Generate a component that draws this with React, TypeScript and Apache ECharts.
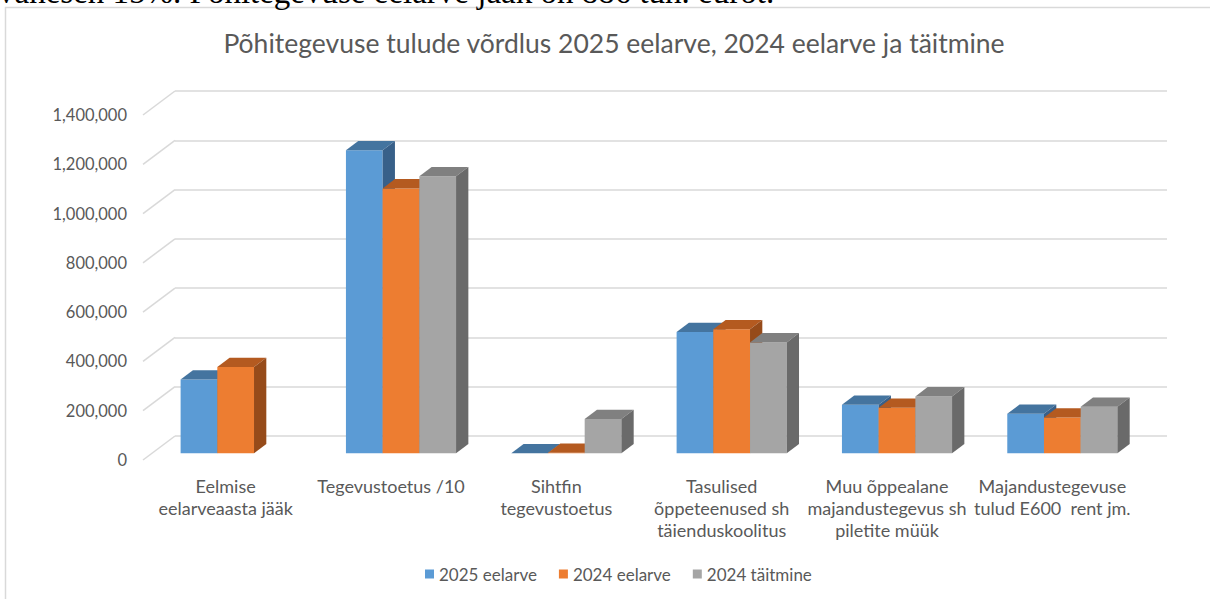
import React, { useEffect, useRef } from "react";
import * as echarts from "echarts";

// ---- data ----
const categories = [
  "Eelmise\neelarveaasta jääk",
  "Tegevustoetus /10",
  "Sihtfin\ntegevustoetus",
  "Tasulised\nõppeteenused sh\ntäienduskoolitus",
  "Muu õppealane\nmajandustegevus sh\npiletite müük",
  "Majandustegevuse\ntulud E600  rent jm.",
];
const seriesNames = ["2025 eelarve", "2024 eelarve", "2024 täitmine"];
const values2025eelarve = [299000, 1230000, 0, 492000, 197000, 160000];
const values2024eelarve = [350000, 1075000, 2500, 503000, 185000, 145000];
const values2024taitmine: (number | null)[] = [null, 1124000, 139000, 450000, 231000, 189000];
const yTicks = [0, 200000, 400000, 600000, 800000, 1000000, 1200000, 1400000];
const titleText = "Põhitegevuse tulude võrdlus 2025 eelarve, 2024 eelarve ja täitmine";
const docText = "vahesen 15%. Põhitegevuse eelarve jääk on 886 tuh. eurot.";

// ---- styles / layout ----
const FONT = "Lato, 'Open Sans', sans-serif";
const TEXT_COLOR = "#595959";
const GRID_COLOR = "#d9d9d9";
const faceColors = [
  { front: "#5b9bd5", top: "#44749f", side: "#386089" },
  { front: "#ed7d31", top: "#b45a20", side: "#964b1a" },
  { front: "#a5a5a5", top: "#808080", side: "#6a6a6a" },
];
const BACK = { left: 175, top: 91, width: 992, height: 345 };
const FRONT = { left: 143, top: 115, width: 992, height: 345 };
const FLOOR_DX = FRONT.left - BACK.left; // -32
const FLOOR_DY = FRONT.top - BACK.top; // 24
const BAR_RATIO = 0.222;
const BAR_SHIFT_X = -22;
const BAR_SHIFT_Y = 17.3;
const DEPTH_DX = 12.3;
const DEPTH_DY = -9.3;

const allSeries = [values2025eelarve, values2024eelarve, values2024taitmine];

function makeBarRender(s: number) {
  const c = faceColors[s];
  return (params: any, api: any) => {
    const v = api.value(1);
    if (v == null || isNaN(v)) return null;
    const cat = api.value(0);
    const top = api.coord([cat, v]);
    const base = api.coord([cat, 0]);
    const band = api.size([1, 0])[0];
    const w = band * BAR_RATIO;
    const cx = top[0] + (s - 1) * w + BAR_SHIFT_X;
    const x0 = cx - w / 2;
    const x1 = cx + w / 2;
    const yT = top[1] + BAR_SHIFT_Y;
    const yB = base[1] + BAR_SHIFT_Y;
    return {
      type: "group",
      children: [
        {
          type: "rect",
          shape: { x: x0, y: yT, width: w, height: Math.max(0, yB - yT) },
          style: { fill: c.front },
        },
        {
          type: "polygon",
          shape: {
            points: [
              [x0, yT],
              [x1, yT],
              [x1 + DEPTH_DX, yT + DEPTH_DY],
              [x0 + DEPTH_DX, yT + DEPTH_DY],
            ],
          },
          style: { fill: c.top },
        },
        {
          type: "polygon",
          shape: {
            points: [
              [x1, yT],
              [x1 + DEPTH_DX, yT + DEPTH_DY],
              [x1 + DEPTH_DX, yB + DEPTH_DY],
              [x1, yB],
            ],
          },
          style: { fill: c.side },
        },
      ],
    };
  };
}

const fmt = (v: number) => v.toLocaleString("en-US");

export default function App() {
  const ref = useRef<HTMLDivElement>(null);
  useEffect(() => {
    if (!ref.current) return;
    const chart = echarts.init(ref.current, undefined, { renderer: "svg" });
    const barSeries = allSeries.map((vals, s) => ({
      type: "custom",
      name: seriesNames[s],
      xAxisIndex: 0,
      yAxisIndex: 0,
      itemStyle: { color: faceColors[s].front },
      renderItem: makeBarRender(s),
      encode: { x: 0, y: 1 },
      data: vals
        .map((v, i) => (v == null ? null : [i, v]))
        .filter((d) => d != null),
      silent: true,
      z: 3,
    }));
    chart.setOption({
      animation: false,
      backgroundColor: "#ffffff",
      textStyle: { fontFamily: FONT },
      graphic: [
        {
          type: "rect",
          shape: { x: 5.5, y: 7.5, width: 1220, height: 620 },
          style: { fill: "none", stroke: GRID_COLOR, lineWidth: 1.5 },
          silent: true,
        },
        {
          type: "text",
          x: -2,
          y: -8,
          style: {
            text: docText,
            font: "33px 'Liberation Serif', 'Times New Roman', serif",
            fill: "#000000",
            textAlign: "left",
            textVerticalAlign: "middle",
          },
          silent: true,
        },
        {
          type: "text",
          x: 614,
          y: 43,
          style: {
            text: titleText,
            font: "26.5px " + FONT,
            fill: TEXT_COLOR,
            textAlign: "center",
            textVerticalAlign: "middle",
          },
          silent: true,
        },
      ],
      legend: {
        data: seriesNames,
        left: 420,
        top: 560,
        icon: "rect",
        itemWidth: 9,
        itemHeight: 9,
        itemGap: 22,
        textStyle: { color: TEXT_COLOR, fontSize: 17, fontFamily: FONT, lineHeight: 18 },
      },
      grid: [
        { ...BACK, containLabel: false },
        { ...FRONT, containLabel: false },
      ],
      xAxis: [
        {
          gridIndex: 0,
          type: "category",
          data: categories,
          show: false,
        },
        {
          gridIndex: 1,
          type: "category",
          data: categories,
          axisLine: { show: false },
          axisTick: { show: false },
          axisLabel: {
            interval: 0,
            margin: 15,
            color: TEXT_COLOR,
            fontSize: 18,
            fontFamily: FONT,
            lineHeight: 22,
          },
        },
      ],
      yAxis: [
        {
          gridIndex: 0,
          type: "value",
          min: 0,
          max: 1400000,
          interval: 200000,
          axisLabel: { show: false },
          axisLine: { show: false },
          axisTick: { show: false },
          splitLine: { show: true, lineStyle: { color: GRID_COLOR, width: 1.5 } },
        },
        {
          gridIndex: 1,
          type: "value",
          min: 0,
          max: 1400000,
          interval: 200000,
          axisLine: { show: false },
          axisTick: { show: false },
          splitLine: { show: false },
          axisLabel: {
            margin: 16,
            color: TEXT_COLOR,
            fontSize: 16.5,
            fontFamily: FONT,
            formatter: (v: number) => fmt(v),
          },
        },
      ],
      series: [
        {
          type: "custom",
          name: "floor",
          xAxisIndex: 0,
          yAxisIndex: 0,
          silent: true,
          z: 1,
          data: yTicks.map((t) => [0, t]),
          encode: { x: 0, y: 1 },
          renderItem: (params: any, api: any) => {
            const p = api.coord([0, api.value(1)]);
            const x = params.coordSys.x;
            return {
              type: "line",
              shape: { x1: x, y1: p[1], x2: x + FLOOR_DX, y2: p[1] + FLOOR_DY },
              style: { stroke: GRID_COLOR, lineWidth: 1.5 },
            };
          },
        },
        ...barSeries,
      ],
    });
    return () => chart.dispose();
  }, []);
  return (
    <div
      ref={ref}
      style={{ position: "absolute", left: 0, top: 0, width: 1210, height: 599, background: "#fff" }}
    />
  );
}
